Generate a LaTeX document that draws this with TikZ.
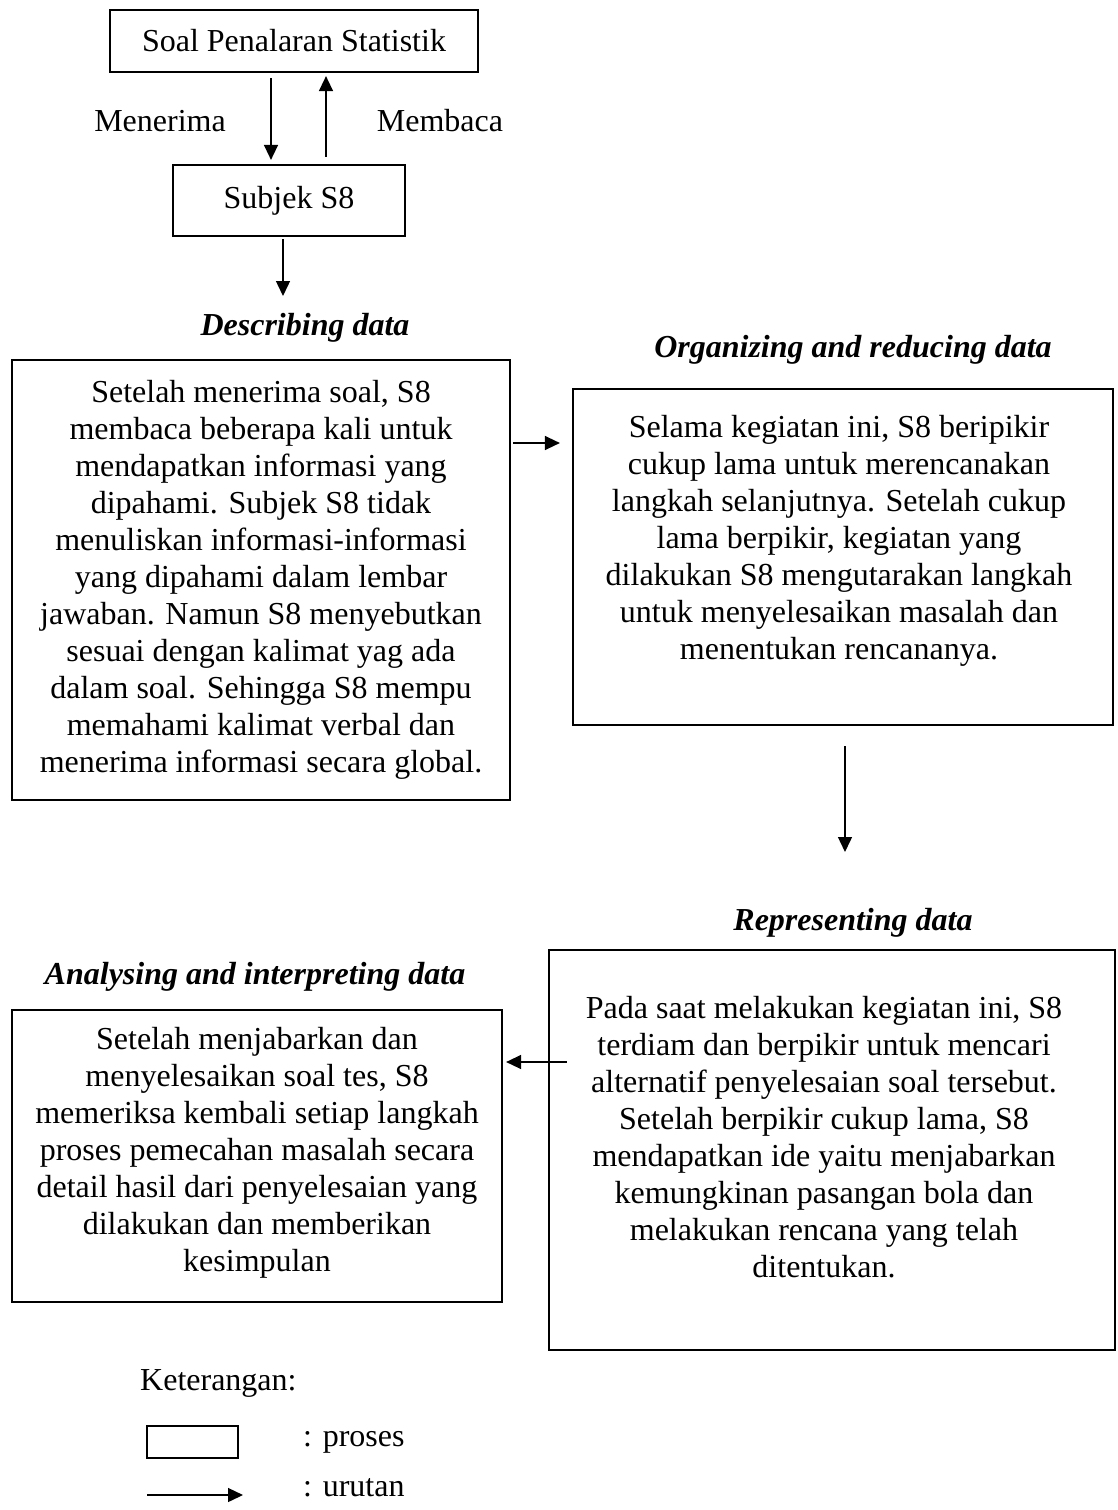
\documentclass[tikz,border=0pt]{standalone}
\usepackage{fontspec}
\setmainfont{Liberation Serif}
\usetikzlibrary{arrows.meta}
\begin{document}
\begin{tikzpicture}[x=1pt,y=-1pt,
  box/.style={draw, line width=2.2pt, inner sep=0pt},
  txt/.style={align=center, inner sep=0pt, font=\fontsize{32}{37}\selectfont},
  ttl/.style={inner sep=0pt, font=\fontsize{32}{37}\selectfont\bfseries\itshape},
  arr/.style={line width=1.4pt, -{Triangle[length=15pt,width=14pt]}}]
\useasboundingbox (0,0) rectangle (1117,1510);

% top: problem and subject
\node[box, txt, minimum width=368pt, minimum height=62pt] (soal) at (294,41) {Soal Penalaran Statistik};
\node[box, txt, minimum width=232pt, minimum height=71pt] (subj) at (289,200.5) {Subjek S8};
\node[txt] (lmen) at (160,121) {Menerima};
\node[txt] (lmem) at (440,121) {Membaca};
\draw[arr] ([xshift=-23pt,yshift=-5pt]soal.south) -- ([xshift=-18pt,yshift=4pt]subj.north);
\draw[arr] ([xshift=37pt,yshift=7pt]subj.north) -- ([xshift=32pt,yshift=-3pt]soal.south);
\coordinate (d1) at (283,296);
\draw[arr] ([xshift=-6pt,yshift=-2pt]subj.south) -- (d1);

% describing data
\node[ttl] (tdesc) at (305,328) {Describing data};
\node[box, minimum width=498pt, minimum height=440pt] (desc) at (261,580) {};
\node[txt] (xdesc) at (261,580) {Setelah menerima soal, S8\\
membaca beberapa kali untuk\\
mendapatkan informasi yang\\
dipahami. Subjek S8 tidak\\
menuliskan informasi-informasi\\
yang dipahami dalam lembar\\
jawaban. Namun S8 menyebutkan\\
sesuai dengan kalimat yag ada\\
dalam soal. Sehingga S8 mempu\\
memahami kalimat verbal dan\\
menerima informasi secara global.};

% organizing and reducing data
\node[ttl] (torg) at (853,350) {Organizing and reducing data};
\node[box, minimum width=540pt, minimum height=336pt] (org) at (843,557) {};
\node[txt] (xorg) at (839,541) {Selama kegiatan ini, S8 beripikir\\
cukup lama untuk merencanakan\\
langkah selanjutnya. Setelah cukup\\
lama berpikir, kegiatan yang\\
dilakukan S8 mengutarakan langkah\\
untuk menyelesaikan masalah dan\\
menentukan rencananya.};
\draw[arr] ([xshift=2pt,yshift=137pt]desc.east) -- ([xshift=-12pt,yshift=114pt]org.west);
\coordinate (d2) at (845,852);
\draw[arr] ([xshift=2pt,yshift=-20pt]org.south) -- (d2);

% representing data
\node[ttl] (trep) at (853,923) {Representing data};
\node[box, minimum width=566pt, minimum height=400pt] (rep) at (832,1150) {};
\node[txt] (xrep) at (824,1137.5) {Pada saat melakukan kegiatan ini, S8\\
terdiam dan berpikir untuk mencari\\
alternatif penyelesaian soal tersebut.\\
Setelah berpikir cukup lama, S8\\
mendapatkan ide yaitu menjabarkan\\
kemungkinan pasangan bola dan\\
melakukan rencana yang telah\\
ditentukan.};

% analysing and interpreting data
\node[ttl] (tana) at (255,977) {Analysing and interpreting data};
\node[box, minimum width=490pt, minimum height=292pt] (ana) at (257,1156) {};
\node[txt] (xana) at (257,1153) {Setelah menjabarkan dan\\
menyelesaikan soal tes, S8\\
memeriksa kembali setiap langkah\\
proses pemecahan masalah secara\\
detail hasil dari penyelesaian yang\\
dilakukan dan memberikan\\
kesimpulan};
\draw[arr] ([xshift=19pt,yshift=88pt]rep.west) -- ([xshift=3pt,yshift=94pt]ana.east);

% legend
\node[txt, anchor=west] (ket) at (140,1383) {Keterangan:};
\node[box, line width=1.8pt, minimum width=91pt, minimum height=32pt] (lbox) at (192.5,1442) {};
\node[txt, anchor=west] (lpro) at (303,1442) {: proses};
\coordinate (la1) at (147,1495);
\coordinate (la2) at (243,1495);
\draw[arr] (la1) -- (la2);
\node[txt, anchor=west] (luru) at (303,1488) {: urutan};
\end{tikzpicture}
\end{document}
